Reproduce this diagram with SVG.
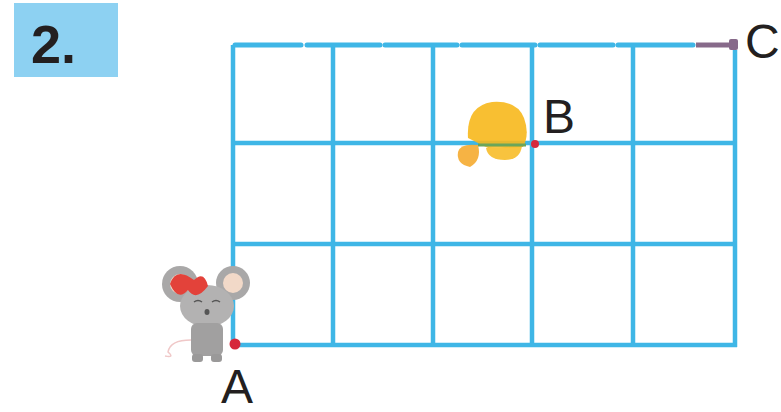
<svg xmlns="http://www.w3.org/2000/svg" width="781" height="412" viewBox="0 0 781 412">
  <style>
    .grid { stroke: #3fb6e6; stroke-width: 4.5; stroke-linecap: butt; fill: none; }
    .top { stroke: #3fb6e6; stroke-width: 5; stroke-linecap: round; fill: none; }
    .lbl { font-family: "Liberation Sans", Arial, sans-serif; font-size: 48px; fill: #231f20; }
  </style>
  <rect width="781" height="412" fill="#ffffff"/>

  <!-- exercise number badge -->
  <g id="badge">
    <rect x="14" y="3" width="104" height="74" fill="#8dd1f2"/>
    <text x="31" y="63" font-family="Liberation Sans, Arial, sans-serif" font-weight="bold" font-size="54" fill="#231f20">2.</text>
  </g>

  <!-- grid lines -->
  <g id="connectors">
    <line class="grid" x1="233" y1="45" x2="233" y2="347"/>
    <line class="grid" x1="333" y1="45" x2="333" y2="347"/>
    <line class="grid" x1="433" y1="45" x2="433" y2="347"/>
    <line class="grid" x1="532" y1="45" x2="532" y2="347"/>
    <line class="grid" x1="633" y1="45" x2="633" y2="347"/>
    <line class="grid" x1="735" y1="50" x2="735" y2="347"/>
    <line class="grid" x1="231" y1="143" x2="737" y2="143" stroke="#3a9fd8" stroke-width="3.5"/>
    <line class="grid" x1="231" y1="244" x2="737" y2="244"/>
    <line class="grid" x1="231" y1="345" x2="737" y2="345" stroke="#2aa8e0" stroke-width="5"/>
    <!-- top edge drawn as joined segments -->
    <line class="top" x1="235" y1="45" x2="301" y2="45"/>
    <line class="top" x1="307" y1="45" x2="380" y2="45"/>
    <line class="top" x1="385" y1="45" x2="457" y2="45"/>
    <line class="top" x1="462" y1="45" x2="535" y2="45"/>
    <line class="top" x1="540" y1="45" x2="613" y2="45"/>
    <line class="top" x1="618" y1="45" x2="693" y2="45"/>
    <!-- path segment ending at C -->
    <line x1="696" y1="45" x2="733" y2="45" stroke="#876a8a" stroke-width="5"/>
    <rect x="729" y="39" width="9" height="11" rx="2" fill="#876a8a"/>
  </g>

  <!-- cheese near B -->
  <g id="cheese">
    <path d="M468 138 Q466 106 492 102 Q517 100 524 118 Q530 134 523 147 L488 148 Z" fill="#f7b81c" opacity="0.9"/>
    <path d="M458 152 Q460 143 478 145 Q482 160 470 167 Q456 164 458 152 Z" fill="#f5a623" opacity="0.85"/>
    <path d="M486 148 L522 146 Q520 160 505 160 Q488 160 486 148 Z" fill="#f7b81c" opacity="0.85"/>
    <line x1="478" y1="145" x2="526" y2="145" stroke="#6aa65a" stroke-width="3"/>
  </g>

  <!-- point B -->
  <g id="nodeB">
    <circle cx="535" cy="144" r="4" fill="#d6283c"/>
    <text class="lbl" x="543" y="133">B</text>
  </g>

  <!-- point C -->
  <g id="nodeC">
    <text class="lbl" x="745" y="58">C</text>
  </g>

  <!-- mouse near A -->
  <g id="mouse">
    <circle cx="180" cy="284" r="18" fill="#a9a8a8"/>
    <circle cx="180" cy="284" r="10" fill="#f2d9c8"/>
    <circle cx="233" cy="283" r="17" fill="#a9a8a8"/>
    <circle cx="233" cy="283" r="10" fill="#f2d9c8"/>
    <ellipse cx="207" cy="306" rx="27" ry="21" fill="#b3b2b2"/>
    <rect x="191" y="323" width="32" height="33" rx="6" fill="#a1a0a0"/>
    <rect x="192" y="354" width="11" height="8" rx="3" fill="#9a9999"/>
    <rect x="211" y="354" width="11" height="8" rx="3" fill="#9a9999"/>
    <path d="M170 284 Q176 266 194 280 Q204 270 208 286 Q196 302 188 290 Q178 302 170 284 Z" fill="#e3423a"/>
    <path d="M194 302 q4 -3 8 0 M212 302 q4 -3 8 0" stroke="#555" stroke-width="1.5" fill="none"/>
    <ellipse cx="207" cy="312" rx="2.5" ry="3" fill="#555"/>
    <path d="M191 340 Q170 340 168 352 Q175 358 165 356" stroke="#f0c8c8" stroke-width="1.5" fill="none"/>
  </g>

  <!-- point A -->
  <g id="nodeA">
    <circle cx="235" cy="344" r="5.5" fill="#d6283c"/>
    <text class="lbl" x="221" y="403">A</text>
  </g>
</svg>
